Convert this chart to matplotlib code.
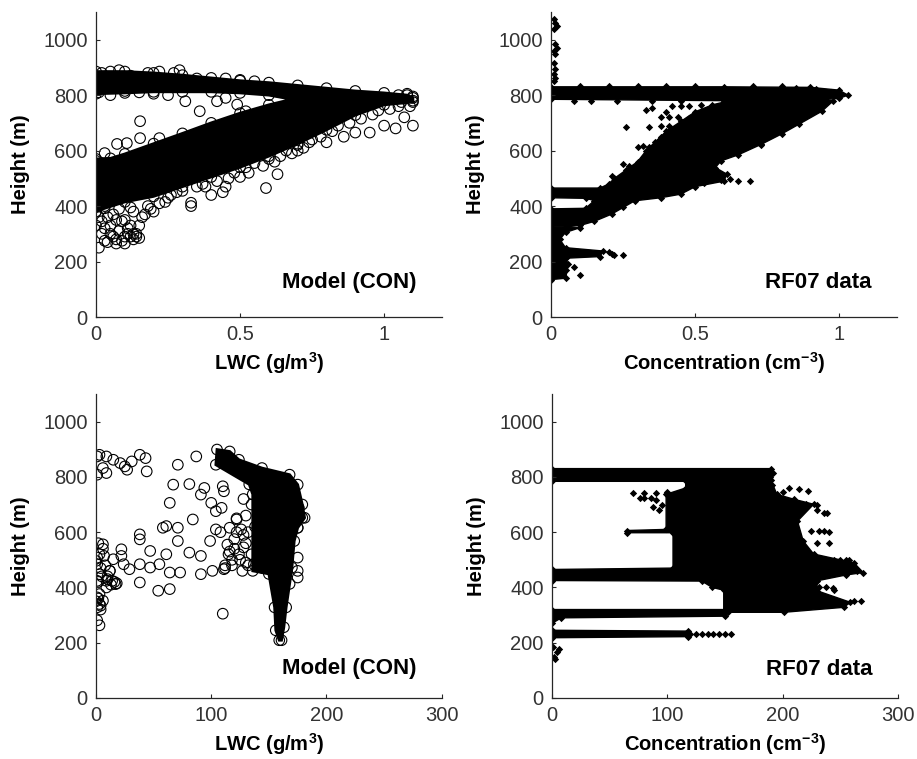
import numpy as np
import matplotlib
matplotlib.use("Agg")
import matplotlib.pyplot as plt

plt.rcParams["font.family"] = ["Liberation Sans", "DejaVu Sans"]
plt.rcParams["mathtext.fontset"] = "custom"
plt.rcParams["mathtext.rm"] = "Liberation Sans"
plt.rcParams["mathtext.bf"] = "Liberation Sans:bold"

# ---- top-left: model LWC (circles) ----
tl_core_lwc = [0, 0.1, 0.2, 0.3, 0.4, 0.5, 0.6, 0.7, 0.8, 0.9, 1.0, 1.08, 1.1, 1.1,
               1.0, 0.9, 0.8, 0.7, 0.6, 0.5, 0.4, 0.3, 0.2, 0.1, 0.03, 0, 0, 0.05,
               0.1, 0.2, 0.3, 0.4, 0.5, 0.6, 0.68, 0.6, 0.5, 0.4, 0.3, 0.2, 0.1, 0]
tl_core_h = [885, 885, 880, 872, 862, 852, 845, 835, 825, 815, 808, 800, 790, 775,
             765, 728, 675, 625, 580, 540, 505, 470, 435, 415, 392, 380, 570, 572,
             588, 625, 662, 700, 735, 765, 785, 800, 808, 812, 812, 812, 808, 805]
tl_lwc = [0.01, 0.02, 0.03, 0.05, 0.07, 0.08, 0.1, 0.11, 0.12, 0.13, 0.14, 0.15,
          0.12, 0.09, 0.04, 0.02, 0.06, 0.16, 0.2, 0.22, 0.18, 0.0, 0.01, 0.0,
          0.03, 0.08, 0.12, 0.25, 0.28,
          0.0, 0.01, 0.03, 0.05, 0.06, 0.09, 0.1, 0.04, 0.07, 0.13, 0.14, 0.11,
          0.1, 0.07, 0.15, 0.17, 0.13, 0.19, 0.24, 0.26, 0.3,
          0.153, 0.153, 0.22, 0.107, 0.073, 0.03, 0.0, 0.02, 0.31, 0.36, 0.42,
          0.49, 0.52, 0.45,
          0.33, 0.33, 0.4, 0.44, 0.5, 0.53, 0.59, 0.63, 0.58, 0.7, 0.72, 0.8,
          0.86, 0.9, 0.95, 1.0, 1.04, 1.1, 1.07, 0.45, 0.38, 0.62, 0.75, 0.68,
          0.35, 0.37, 0.42, 0.46, 0.48, 0.52, 0.55, 0.6, 0.64, 0.66, 0.7, 0.74,
          0.78, 0.82, 0.84, 0.88, 0.92, 0.96, 0.98, 1.02, 1.05,
          0.02, 0.05, 0.08, 0.12, 0.18, 0.22, 0.27, 0.29, 0.35, 0.45, 0.5, 0.55,
          1.05, 1.08, 1.1, 1.1, 1.06, 1.09, 0.01, 0.05, 0.1, 0.15, 0.2, 0.25]
tl_h = [250, 300, 275, 330, 280, 310, 265, 300, 290, 280, 300, 285,
        330, 345, 360, 345, 370, 360, 380, 410, 400, 420, 440, 380,
        400, 390, 395, 430, 450,
        330, 360, 320, 300, 290, 275, 290, 270, 265, 300, 290, 320,
        350, 350, 330, 370, 380, 390, 415, 440, 455,
        706, 645, 645, 627, 624, 591, 563, 545, 778, 742, 778,
        766, 742, 790,
        400, 412, 440, 450, 505, 520, 465, 515, 545, 600, 610, 630,
        650, 665, 665, 690, 680, 690, 720, 470, 470, 560, 640, 590,
        470, 480, 490, 500, 520, 540, 555, 570, 580, 600, 620, 630,
        650, 670, 690, 700, 715, 730, 745, 750, 760,
        880, 885, 890, 870, 880, 885, 880, 890, 860, 860, 855, 850,
        800, 805, 795, 780, 775, 760, 810, 800, 815, 810, 805, 800]

# ---- top-right: RF07 concentration (diamonds) ----
tr_band_conc = [0, 0.6, 0.9, 1.0, 1.03, 1.0, 0.9, 0.6, 0.3, 0]
tr_band_h = [785, 780, 782, 788, 800, 818, 828, 830, 830, 830]
tr_core_conc = [0, 0.17, 0.2, 0.22, 0.26, 0.3, 0.33, 0.36, 0.4, 0.45, 0.5, 0.56,
                0.62, 0.95, 0.98, 0.94, 0.86, 0.8, 0.73, 0.65, 0.59, 0.57, 0.61,
                0.6, 0.5, 0.45, 0.38, 0.29, 0.25, 0.21, 0.15, 0.1, 0.05, 0, 0,
                0.12, 0.15, 0.12, 0]
tr_core_h = [465, 465, 480, 500, 530, 560, 600, 630, 670, 705, 740, 765,
             780, 785, 780, 742, 695, 660, 623, 585, 563, 539, 515,
             490, 470, 443, 430, 419, 395, 371, 345, 330, 325, 325, 390,
             392, 420, 428, 430]
tr_low_conc = [0, 0.05, 0.06, 0.05, 0.17, 0.18, 0.05, 0.03, 0.05, 0.1, 0]
tr_low_h = [135, 140, 190, 212, 218, 238, 250, 280, 305, 322, 322]
tr_conc = [0.01, 0.015, 0.02, 0.01, 0.015, 0.02, 0.01, 0.015, 0.01, 0.012, 0.01,
           0.015, 0.01,
           0.42, 0.45, 0.48, 0.52, 0.56, 0.6, 0.38, 0.41, 0.44, 0.48, 0.52,
           0.55, 0.62, 0.35, 0.33, 0.4, 0.26, 0.34, 0.38, 0.41, 0.44, 0.47,
           0.4, 0.44, 0.38, 0.3, 0.32, 0.34, 0.36, 0.73, 0.69, 0.65, 0.62,
           0.59, 0.53, 0.25, 0.27, 0.21, 0.08, 0.1, 0.05, 0.2, 0.22, 0.25,
           0.21, 0.1, 0.2, 0.3, 0.4, 0.5, 0.7, 0.8, 0.85, 0.92, 0.97, 0.08,
           0.14, 0.23, 0.35, 0.45]
tr_h = [1075, 1060, 1050, 1040, 985, 970, 960, 950, 915, 895, 875, 862, 850,
        760, 762, 762, 765, 762, 760, 722, 722, 720, 718, 718,
        725, 720, 752, 745, 740, 685, 685, 690, 688, 685, 690,
        660, 650, 650, 612, 615, 612, 610, 620, 490, 492, 498,
        495, 482, 550, 545, 510, 180, 150, 170, 235, 225, 225,
        228, 832, 834, 832, 834, 832, 834, 832, 826, 822, 812, 780,
        778, 780, 778, 780]

# ---- bottom-left: model (circles) ----
bl_core_lwc = [105, 116, 124, 144, 168, 175, 179, 181, 175, 172, 170, 168, 165,
               163, 161, 159, 156, 155, 150, 136, 136, 133, 104]
bl_core_h = [899, 892, 862, 832, 808, 772, 700, 652, 616, 568, 472, 413, 328,
             256, 209, 209, 245, 328, 449, 460, 737, 773, 844]
bl_lwc = [87, 71, 67, 81, 64, 84, 94, 91, 110, 111, 100, 104, 109, 61, 58, 71,
          38, 38, 6, 22, 22, 71, 47, 61, 81, 91, 99, 104, 116, 122, 38, 47, 55,
          64, 73, 91, 101, 111, 38, 54, 64, 110, 127, 137, 175, 175, 175, 179,
          175, 176, 29, 24, 12, 3, 3, 3, 1,
          1, 3, 9, 15, 21, 38, 43, 27, 44, 6, 1, 9, 31, 25,
          0, 1, 3, 1, 9, 14, 9, 17, 1, 6, 1, 4, 12, 1, 7, 15,
          2, 5, 10, 16, 18, 4, 8, 3, 6, 2, 0, 2, 4, 10, 13,
          115, 120, 125, 130, 118, 128, 135, 122, 112, 132,
          112, 118, 124, 128, 114, 120, 132, 138, 126, 116, 130, 140, 145, 140,
          108, 122, 130, 135, 128]
bl_h = [874, 844, 772, 774, 706, 646, 760, 736, 766, 748, 706, 676, 688, 622,
        616, 616, 592, 574, 556, 538, 514, 568, 532, 520, 526, 514, 568, 610,
        616, 646, 484, 472, 484, 454, 454, 448, 460, 466, 418, 388, 394, 305,
        460, 484, 508, 460, 436, 652, 616, 688, 466, 484, 460, 376, 340, 263,
        281,
        874, 880, 874, 862, 850, 880, 868, 826, 820, 832, 808, 814, 856, 838,
        496, 508, 448, 424, 424, 424, 400, 412, 364, 352, 328, 334, 460, 484,
        514, 502,
        420, 440, 430, 420, 415, 470, 480, 520, 540, 560, 350, 360, 320, 440,
        410,
        520, 540, 500, 560, 480, 590, 520, 600, 470, 480,
        480, 500, 520, 545, 555, 575, 600, 620, 610, 530, 490, 500, 470, 560,
        600, 650, 660, 700, 720]

# ---- bottom-right: RF07 concentration (diamonds) ----
br_core_conc = [0, 190, 192, 190, 195, 210, 227, 213, 218, 227, 262, 270, 255,
                230, 230, 259, 253, 201, 149, 149, 139, 130, 0, 0, 105, 105, 65,
                65, 99, 99, 116, 116, 0]
br_core_h = [830, 830, 814, 790, 737, 719, 701, 640, 568, 521, 489, 454, 445,
             424, 388, 346, 328, 310, 310, 390, 400, 423, 425, 465, 470, 598, 598,
             606, 610, 737, 760, 784, 784]
br_b300_conc = [0, 8, 150, 153, 150, 0]
br_b300_h = [270, 290, 296, 310, 320, 320]
br_b230_conc = [0, 118, 120, 118, 0]
br_b230_h = [218, 222, 232, 242, 245]
br_conc = [125, 130, 135, 140, 145, 150, 155, 2, 4, 6, 1, 3, 239, 236, 230, 220,
           76, 80, 86, 90, 95, 70, 80, 90, 100, 93, 88, 245, 262, 268, 265, 258,
           200, 182, 189, 191,
           200, 210, 220, 230, 236, 225, 232, 240, 230, 240, 250, 245, 255,
           240, 250, 258, 232, 238, 244, 228, 206, 214, 222]
br_h = [230, 230, 230, 230, 230, 230, 230, 150, 165, 178, 185, 140, 670, 604,
        680, 690, 722, 722, 722, 715, 700, 742, 742, 742, 745, 680, 690, 390,
        350, 350, 460, 500, 745, 780, 800, 770,
        700, 700, 702, 700, 670, 604, 604, 600, 560, 560, 500, 500, 500,
        460, 460, 460, 400, 400, 398, 380, 760, 755, 750]

fig = plt.figure(figsize=(9.17, 7.59), dpi=100)
w, h = 0.377, 0.402
ax_tl = fig.add_axes([0.1047, 0.5823, w, h])
ax_tr = fig.add_axes([0.601, 0.5823, w, h])
ax_bl = fig.add_axes([0.1047, 0.0804, w, 0.4005])
ax_br = fig.add_axes([0.602, 0.0804, w, 0.4005])

circ = dict(s=58, facecolors="none", edgecolors="k", linewidths=0.8)
dia = dict(s=14, marker="D", c="k", linewidths=0)

ax_tl.fill(tl_core_lwc, tl_core_h, color="k", lw=2)
ax_tl.scatter(tl_core_lwc, tl_core_h, **circ)
ax_tl.scatter(tl_lwc, tl_h, **circ)

ax_tr.fill(tr_band_conc, tr_band_h, color="k", lw=1)
ax_tr.fill(tr_core_conc, tr_core_h, color="k", lw=1)
ax_tr.fill(tr_low_conc, tr_low_h, color="k", lw=1)
ax_tr.scatter(tr_band_conc + tr_core_conc + tr_low_conc,
              tr_band_h + tr_core_h + tr_low_h, **dia)
ax_tr.scatter(tr_conc, tr_h, **dia)

ax_bl.fill(bl_core_lwc, bl_core_h, color="k", lw=2)
ax_bl.scatter(bl_core_lwc, bl_core_h, **circ)
ax_bl.scatter(bl_lwc, bl_h, **circ)

ax_br.fill(br_core_conc, br_core_h, color="k", lw=1)
ax_br.fill(br_b300_conc, br_b300_h, color="k", lw=1)
ax_br.fill(br_b230_conc, br_b230_h, color="k", lw=1)
ax_br.scatter(br_core_conc + br_b300_conc + br_b230_conc,
              br_core_h + br_b300_h + br_b230_h, **dia)
ax_br.scatter(br_conc, br_h, **dia)

panels = [
    (ax_tl, 1.2, [0, 0.5, 1], ["0", "0.5", "1"], r"LWC (g/m$^{\mathbf{3}}$)", "Model (CON)", 0.112),
    (ax_tr, 1.2, [0, 0.5, 1], ["0", "0.5", "1"], r"Concentration (cm$^{\mathbf{-3}}$)", "RF07 data", 0.114),
    (ax_bl, 300, [0, 100, 200, 300], ["0", "100", "200", "300"], r"LWC (g/m$^{\mathbf{3}}$)", "Model (CON)", 0.098),
    (ax_br, 300, [0, 100, 200, 300], ["0", "100", "200", "300"], r"Concentration (cm$^{\mathbf{-3}}$)", "RF07 data", 0.093),
]
for ax, xmax, xt, xtl, xlab, tag, ty in panels:
    ax.set_xlim(0, xmax)
    ax.set_ylim(0, 1100)
    ax.set_xticks(xt)
    ax.set_xticklabels(xtl)
    ax.set_yticks([0, 200, 400, 600, 800, 1000])
    for s in ("top", "right"):
        ax.spines[s].set_visible(False)
    for s in ("left", "bottom"):
        ax.spines[s].set_color("#262626")
        ax.spines[s].set_linewidth(0.9)
    ax.tick_params(direction="in", length=3, width=0.8, colors="#262626",
                   labelcolor="#333333", labelsize=14.5, pad=6)
    ax.set_xlabel(xlab, fontsize=14.5, fontweight="bold")
    ax.set_ylabel("Height (m)", fontsize=14.5, fontweight="bold")
    ax.xaxis.set_label_coords(0.5, -0.11)
    ax.yaxis.set_label_coords(-0.19, 0.5)
    ax.text(0.927, ty, tag, transform=ax.transAxes, ha="right", va="center",
            fontsize=16, fontweight="bold")

fig.savefig("out.png", dpi=100)
